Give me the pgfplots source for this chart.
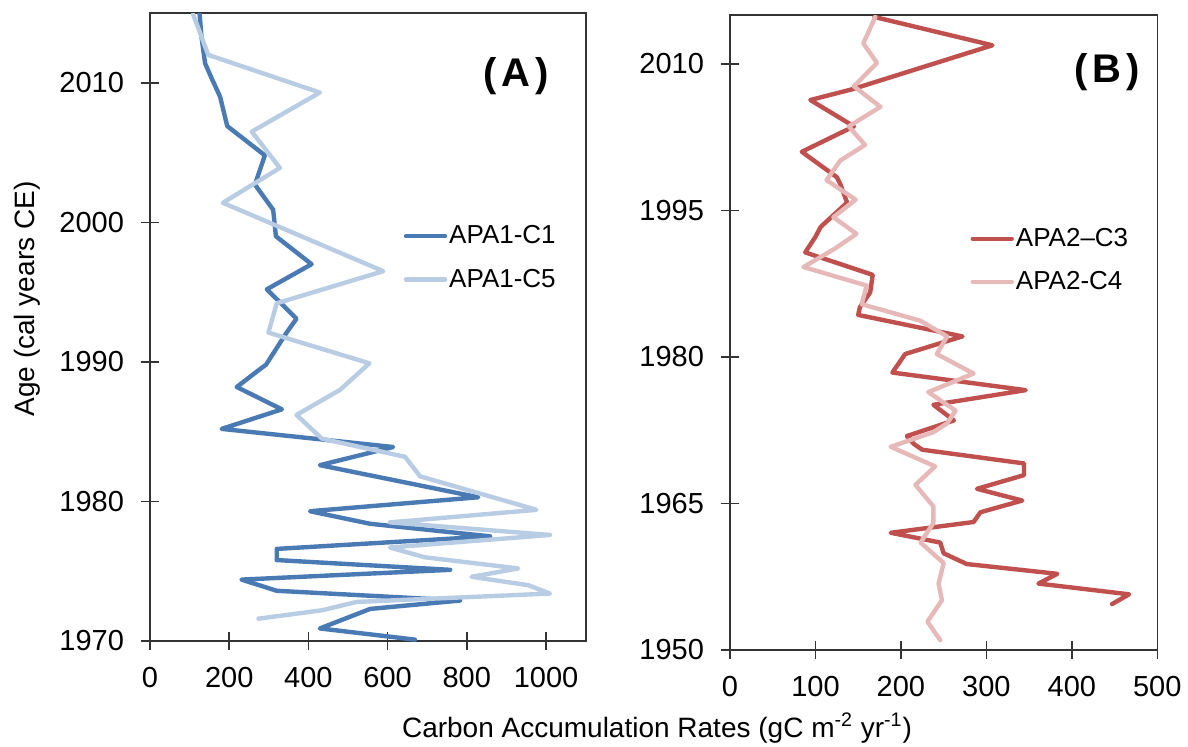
\documentclass[border=0pt]{standalone}
\usepackage{pgfplots}
\pgfplotsset{compat=1.18}
\usepackage{fontspec}
\setmainfont{Liberation Sans}
\definecolor{dblue}{RGB}{74,122,180}
\definecolor{lblue}{RGB}{184,204,228}
\definecolor{dred}{RGB}{192,80,77}
\definecolor{lpink}{RGB}{230,185,184}
\begin{document}
\begin{tikzpicture}
\useasboundingbox (0,0) rectangle (594pt,373pt);
\pgfplotsset{
  panel/.style={
    scale only axis,
    axis line style={draw=black!80, line width=0.8pt},
    tick style={draw=black!80, line width=0.8pt},
    tick align=center,
    major tick length=9pt,
    xtick pos=bottom, ytick pos=left,
    /pgf/number format/assume math mode=true,
    /pgf/number format/1000 sep={},
    tick label style={font=\fontsize{14.5}{16}\selectfont},
    xticklabel style={yshift=-5pt},
    yticklabel style={xshift=-5pt},
    legend style={draw=none, fill=none, font=\fontsize{13}{15}\selectfont, row sep=9pt, inner sep=0pt,
      nodes={inner sep=1pt, anchor=west}},
    legend cell align=left,
    legend image code/.code={\draw[##1, line width=2.2pt] (0pt,0pt) -- (19.5pt,0pt);},
  },
}
% Panel A
\begin{axis}[panel,
  at={(75pt,52.5pt)}, anchor=south west,
  width=218pt, height=314pt,
  xmin=0, xmax=1101, ymin=1970, ymax=2015,
  xtick={0,200,400,600,800,1000},
  ytick={1970,1980,1990,2000,2010},
  legend style={at={(axis cs:640,1999.0)}, anchor=north west, yshift=6.5pt},
]
\addplot[dblue, line width=2.2pt, line join=round, line cap=round] coordinates {
(125,2015) (130,2013.3) (139,2011.4) (156,2010.3) (177,2009.0) (195,2006.9)
(290,2004.8) (265,2002.7) (311,2000.9) (318,1999.0) (408,1997.0) (295,1995.2)
(370,1993.1) (345,1992.1) (293,1989.8) (274,1989.4) (219,1988.2) (333,1986.6)
(181,1985.2) (614,1983.9) (429,1982.6) (829,1980.3) (404,1979.3) (556,1978.4)
(859,1977.5) (320,1976.6) (320,1975.8) (758,1975.1) (231,1974.4) (320,1973.6)
(783,1972.9) (556,1972.3) (429,1970.9) (669,1970.1)
};
\addlegendentry{APA1-C1}
\addplot[lblue, line width=2.2pt, line join=round, line cap=round] coordinates {
(109,2014.9) (147,2012.0) (429,2009.3) (257,2006.5) (328,2003.9) (184,2001.4)
(589,1996.5) (320,1994.2) (299,1992.1) (554,1989.9) (480,1988.0) (370,1986.2)
(434,1984.5) (644,1983.2) (682,1981.8) (976,1979.4) (606,1978.5) (1010,1977.6)
(606,1976.7) (694,1976.0) (930,1975.2) (812,1974.6) (955,1974.0) (1010,1973.4)
(522,1972.8) (434,1972.2) (274,1971.6)
};
\addlegendentry{APA1-C5}
\node[font=\bfseries\fontsize{20}{22}\selectfont, anchor=center] at (axis cs:925,2010.45) {(\hspace{2.5pt}A\hspace{2.5pt})};
\end{axis}
% Panel B
\begin{axis}[panel,
  at={(365pt,48pt)}, anchor=south west,
  width=213.65pt, height=317.5pt,
  xmin=0, xmax=500, ymin=1950, ymax=2015,
  xtick={0,100,200,300,400,500},
  ytick={1950,1965,1980,1995,2010},
  legend style={at={(axis cs:281,1992.1)}, anchor=north west, yshift=6.5pt},
]
\addplot[dred, line width=2.2pt, line join=round, line cap=round] coordinates {
(169,2014.8) (307,2011.9) (143,2007.4) (94,2006.3) (145,2003.6) (84,2001.0)
(125,1998.4) (129,1997.7) (137,1995.8) (106,1993.3) (100,1992.3) (88,1990.7)
(167,1988.4) (164,1986.6) (152,1985.1) (150,1984.3) (272,1982.1) (205,1980.3)
(190,1978.4) (346,1976.6) (238,1975.1) (262,1973.5) (207,1971.9) (215,1971.1)
(225,1970.5) (344,1969.1) (344,1967.9) (289,1966.5) (342,1965.3) (293,1964.1)
(285,1963.1) (188,1962.0) (246,1961.0) (250,1959.9) (277,1958.8) (383,1957.8)
(361,1956.8) (467,1955.7) (447,1954.7)
};
\addlegendentry{APA2--C3}
\addplot[lpink, line width=2.2pt, line join=round, line cap=round] coordinates {
(170,2014.8) (156,2012.1) (172,2010.1) (145,2007.7) (176,2005.6) (139,2003.6)
(158,2001.7) (129,2000.1) (113,1998.1) (147,1996.1) (121,1994.3) (148,1992.6)
(123,1991.1) (86,1989.2) (160,1987.3) (154,1985.4) (223,1983.7) (254,1982.1)
(242,1980.3) (285,1978.3) (232,1976.4) (264,1974.5) (254,1973.2) (238,1972.3)
(188,1970.8) (240,1968.8) (217,1966.9) (238,1964.7) (238,1963.0) (223,1961.0)
(250,1958.9) (244,1956.8) (248,1955.1) (231,1952.9) (246,1951.0)
};
\addlegendentry{APA2-C4}
\node[font=\bfseries\fontsize{20}{22}\selectfont, anchor=center] at (axis cs:441,2009.1) {(\hspace{2.5pt}B\hspace{2.5pt})};
\end{axis}
\node[font=\fontsize{14}{16}\selectfont, anchor=base] at (328.5pt,4.5pt) {Carbon Accumulation Rates (gC m\textsuperscript{-2} yr\textsuperscript{-1})};
\node[font=\fontsize{14}{16}\selectfont, rotate=90, anchor=center] at (13.75pt,223.5pt) {Age (cal years CE)};
\end{tikzpicture}
\end{document}
